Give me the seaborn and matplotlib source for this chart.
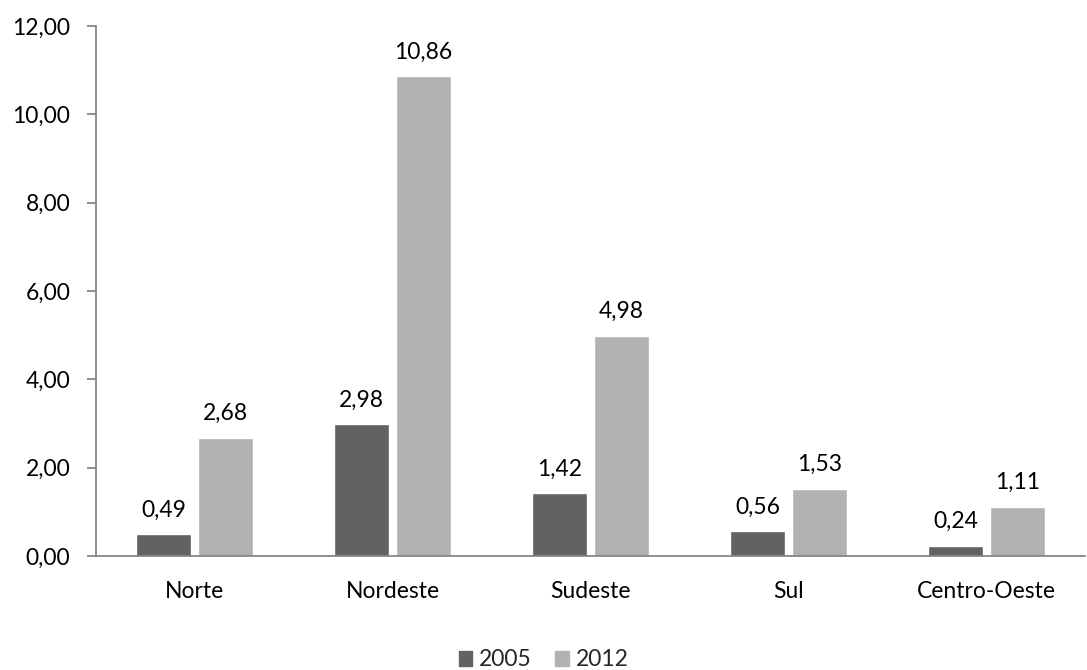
import matplotlib
matplotlib.use("Agg")
import matplotlib.pyplot as plt
import seaborn as sns
import pandas as pd

regions = ["Norte", "Nordeste", "Sudeste", "Sul", "Centro-Oeste"]
years = ["2005", "2012"]
values_2005 = [0.49, 2.98, 1.42, 0.56, 0.24]
values_2012 = [2.68, 10.86, 4.98, 1.53, 1.11]
y_ticks = [0, 2, 4, 6, 8, 10, 12]

df = pd.DataFrame({
    "regiao": regions * 2,
    "ano": [years[0]] * len(regions) + [years[1]] * len(regions),
    "valor": values_2005 + values_2012,
})

sns.set_theme(style="white")
plt.rcParams["font.family"] = ["Lato", "DejaVu Sans"]

FS = 16.5

def fmt(v):
    return f"{v:.2f}".replace(".", ",")

fig = plt.figure(figsize=(10.87, 6.70), dpi=100)
ax = fig.add_axes([0.0883, 0.170, 0.910, 0.791])

palette = {"2005": "#626262", "2012": "#b2b2b2"}
sns.barplot(data=df, x="regiao", y="valor", hue="ano", order=regions,
            hue_order=years, palette=palette, width=0.625, gap=0.11,
            saturation=1, ax=ax, legend=False)

for container in ax.containers:
    for bar in container:
        h = bar.get_height()
        ax.annotate(fmt(h), (bar.get_x() + bar.get_width() / 2, h),
                    xytext=(0, 18), textcoords="offset pixels",
                    ha="center", va="baseline", fontsize=FS, color="#000000")

ax.set_ylim(0, 12)
ax.set_xlim(-0.5, len(regions) - 0.5)
ax.set_yticks(y_ticks)
ax.set_yticklabels([fmt(t) for t in y_ticks])
ax.set_xlabel("")
ax.set_ylabel("")

for side in ["top", "right"]:
    ax.spines[side].set_visible(False)
for side in ["left", "bottom"]:
    ax.spines[side].set_color("#868686")
    ax.spines[side].set_linewidth(1.3)

ax.tick_params(axis="y", which="major", left=True, length=6.5, width=1.3,
               color="#868686", pad=12, labelsize=FS, labelcolor="#000000")
ax.tick_params(axis="x", bottom=False, length=0, pad=18, labelsize=FS,
               labelcolor="#000000")

handles = [plt.Rectangle((0, 0), 1, 1, color=palette[y]) for y in years]
fig.legend(handles, years, loc="center", bbox_to_anchor=(0.5, 1 - 660 / 670),
           ncol=2, frameon=False, fontsize=FS, handlelength=0.6,
           handleheight=0.6, handletextpad=0.3, columnspacing=1.0,
           borderaxespad=0, borderpad=0)

fig.savefig("out.png", dpi=100)
